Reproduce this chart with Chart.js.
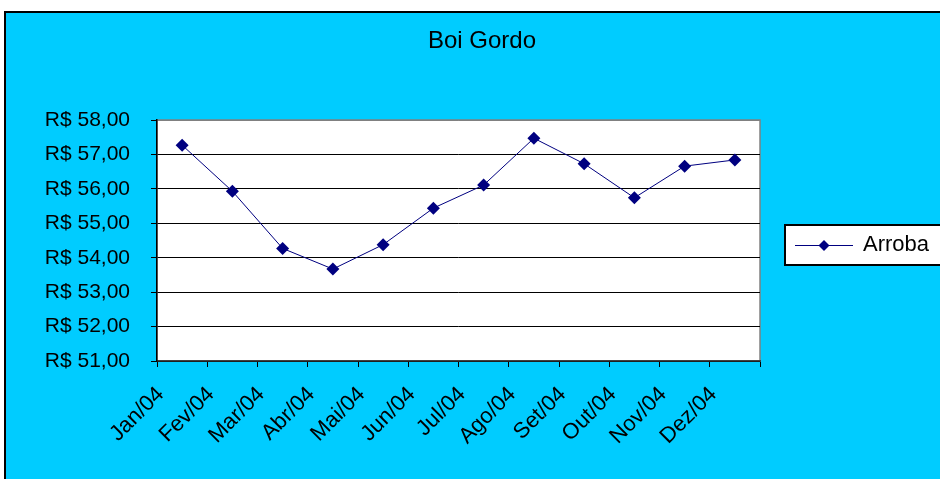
<!DOCTYPE html>
<html>
<head>
<meta charset="utf-8">
<title>Boi Gordo</title>
<script src="https://cdn.jsdelivr.net/npm/chart.js@4.4.1/dist/chart.umd.min.js"></script>
<style>
	html, body { margin: 0; padding: 0; background: #ffffff; overflow: hidden; }
	#frame { position: absolute; left: 4px; top: 11px; width: 950px; height: 490px; background: #00ccff; border-left: 2px solid #000; border-top: 2px solid #000; }
	#chart { position: absolute; left: 0; top: 0; }
</style>
</head>
<body>
<div id="frame"></div>
<canvas id="chart" width="940" height="479"></canvas>
<script>
	// meses de 2004
	var months = ['Jan/04', 'Fev/04', 'Mar/04', 'Abr/04', 'Mai/04', 'Jun/04', 'Jul/04', 'Ago/04', 'Set/04', 'Out/04', 'Nov/04', 'Dez/04'];
	// preço da arroba (R$)
	var arroba = [57.27, 55.93, 54.27, 53.67, 54.38, 55.44, 56.11, 57.47, 56.73, 55.74, 56.66, 56.84];
	var yMin = 51, yMax = 58, yStep = 1;

	var navy = '#000080',
		font = "'Liberation Sans', Arial, sans-serif";

	// swatch da legenda: linha com losango
	function legendSwatch() {
		var c = document.createElement('canvas'),
			ctx = c.getContext('2d');
		c.width = 58;
		c.height = 14;
		ctx.strokeStyle = navy;
		ctx.lineWidth = 1;
		ctx.beginPath();
		ctx.moveTo(0, 7.5);
		ctx.lineTo(58, 7.5);
		ctx.stroke();
		ctx.fillStyle = navy;
		ctx.beginPath();
		ctx.moveTo(29, 2);
		ctx.lineTo(34.5, 7.5);
		ctx.lineTo(29, 13);
		ctx.lineTo(23.5, 7.5);
		ctx.closePath();
		ctx.fill();
		return c;
	}

	// fundo branco da área de plotagem e caixa da legenda
	var backdrop = {
		id: 'backdrop',
		beforeDraw: function (chart) {
			var ctx = chart.ctx,
				a = chart.chartArea;
			ctx.save();
			ctx.fillStyle = '#ffffff';
			ctx.fillRect(a.left, a.top, a.right - a.left, a.bottom - a.top);
			ctx.strokeStyle = '#808080';
			ctx.lineWidth = 1.5;
			ctx.strokeRect(a.left, a.top, a.right - a.left, a.bottom - a.top);

			var hb = chart.legend && chart.legend.legendHitBoxes && chart.legend.legendHitBoxes[0];
			if (hb) {
				var x = hb.left - 11, y = hb.top - 9, h = hb.height + 18;
				ctx.fillStyle = '#ffffff';
				ctx.fillRect(x, y, 300, h);
				ctx.strokeStyle = '#000000';
				ctx.lineWidth = 2;
				ctx.strokeRect(x, y, 300, h);
			}
			ctx.restore();
		}
	};

	new Chart(document.getElementById('chart'), {
		type: 'line',
		data: {
			labels: months,
			datasets: [{
				label: 'Arroba',
				data: arroba,
				borderColor: navy,
				backgroundColor: navy,
				borderWidth: 1,
				pointStyle: 'rectRot',
				pointRadius: 6.5,
				pointBorderWidth: 0,
				tension: 0
			}]
		},
		options: {
			responsive: false,
			animation: false,
			devicePixelRatio: 1,
			layout: { padding: { left: 26, right: 2, top: 0, bottom: 0 } },
			plugins: {
				tooltip: { enabled: false },
				title: {
					display: true,
					text: 'Boi Gordo',
					color: '#000',
					font: { family: font, size: 24, weight: 'normal', lineHeight: 1.2 },
					padding: { top: 26.5, bottom: 64.7 }
				},
				legend: {
					display: true,
					position: 'right',
					align: 'start',
					title: {
						display: true,
						text: ' ',
						font: { family: font, size: 10 },
						padding: { top: 174, bottom: 38 }
					},
					labels: {
						usePointStyle: true,
						pointStyle: legendSwatch(),
						pointStyleWidth: 56,
						boxHeight: 14,
						padding: 10,
						color: '#000',
						font: { family: font, size: 22 }
					}
				}
			},
			scales: {
				x: {
					offset: true,
					grid: {
						offset: true,
						drawOnChartArea: false,
						drawTicks: true,
						tickLength: 6,
						color: '#000'
					},
					border: { color: '#404040', width: 1.5 },
					ticks: {
						maxRotation: 45,
						minRotation: 45,
						autoSkip: false,
						padding: 0,
						color: '#000',
						font: { family: font, size: 22, lineHeight: 0.3 },
						// espaços finais recuam o rótulo girado como no original
						callback: function (v) { return this.getLabelForValue(v) + '     '; }
					},
					afterFit: function (scale) { scale.height = 118; }
				},
				y: {
					min: yMin,
					max: yMax,
					ticks: {
						stepSize: yStep,
						padding: 21,
						color: '#000',
						font: { family: font, size: 21 },
						callback: function (v) { return 'R$ ' + v.toFixed(2).replace('.', ','); }
					},
					grid: {
						color: function (c) { return c.tick && c.tick.value === yMax ? '#808080' : '#000'; },
						tickColor: '#000',
						tickLength: 6,
						lineWidth: 1
					},
					border: { color: '#000', width: 1.5 },
					afterFit: function (scale) { scale.width = 131; }
				},
				gap: {
					position: 'right',
					display: true,
					ticks: { display: false },
					grid: { display: false, drawTicks: false },
					border: { display: false },
					afterFit: function (scale) { scale.width = 26; }
				}
			}
		},
		plugins: [backdrop]
	});
</script>
</body>
</html>
